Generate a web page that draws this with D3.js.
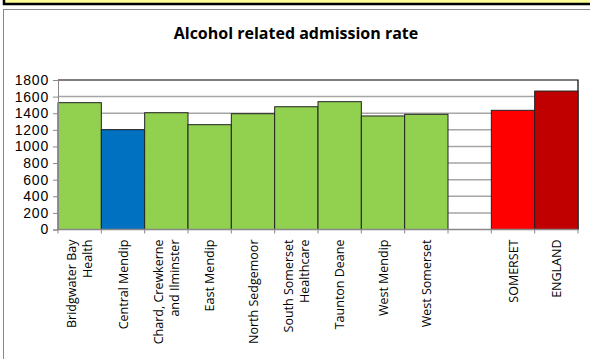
<!DOCTYPE html>
<html><head><meta charset="utf-8">
<script src="https://cdn.jsdelivr.net/npm/d3@7"></script>
<style>body{margin:0;background:#fff;overflow:hidden}svg{display:block}</style>
</head><body>
<svg id="c" width="590" height="359"></svg>
<script>
const categories = ["Bridgwater Bay\nHealth","Central Mendip","Chard, Crewkerne\nand Ilminster","East Mendip","North Sedgemoor","South Somerset\nHealthcare","Taunton Deane","West Mendip","West Somerset","","SOMERSET","ENGLAND"];
const values = [1527,1202,1406,1262,1394,1478,1539,1367,1387,null,1435,1667];
const barColors = ["#92D050","#0070C0","#92D050","#92D050","#92D050","#92D050","#92D050","#92D050","#92D050","#92D050","#FF0000","#C00000"];
const yTicks = [0,200,400,600,800,1000,1200,1400,1600,1800];
const title = "Alcohol related admission rate";

const svg = d3.select("#c");
// top yellow banner
svg.append("rect").attr("x",4).attr("y",-20).attr("width",600).attr("height",24)
  .attr("fill","#FFFF99").attr("stroke","#000").attr("stroke-width",2.5);
// chart frame
svg.append("rect").attr("x",3.5).attr("y",9.5).attr("width",600).attr("height",400)
  .attr("fill","#fff").attr("stroke","#888").attr("stroke-width",1);

svg.append("text").attr("x",296).attr("y",39).attr("text-anchor","middle")
  .attr("font-family","Open Sans").attr("font-weight","bold").attr("font-size",16)
  .text(title);

const L=58, R=578, T=80, B=229.5;
const x = d3.scaleBand().domain(categories.map((d,i)=>i)).range([L,R]).padding(0);
const y = d3.scaleLinear().domain([0,1800]).range([B,T]);

// gridlines
svg.append("g").selectAll("line").data(yTicks.filter(d=>d>0&&d<1800)).join("line")
  .attr("x1",L).attr("x2",R).attr("y1",d=>y(d)).attr("y2",d=>y(d))
  .attr("stroke","#a6a6a6").attr("stroke-width",1.5);

// plot border top/right
svg.append("path").attr("d",`M${L},${y(1800)}H${R}V${B}`).attr("fill","none").attr("stroke","#000").attr("stroke-width",1.2);

// bars
svg.append("g").selectAll("rect").data(values.map((v,i)=>({v,i})).filter(d=>d.v!=null)).join("rect")
  .attr("x",d=>x(d.i)).attr("width",x.bandwidth())
  .attr("y",d=>y(d.v)).attr("height",d=>B-y(d.v))
  .attr("fill",d=>barColors[d.i]).attr("stroke","#222").attr("stroke-width",1);

// y axis
const ya = svg.append("g").attr("transform",`translate(${L},0)`)
  .call(d3.axisLeft(y).tickValues(yTicks).tickSize(5).tickPadding(4).tickFormat(d3.format("d")));
ya.select(".domain").attr("stroke","#888");
ya.selectAll(".tick line").attr("stroke","#888");
ya.selectAll("text").attr("font-family","Liberation Sans").attr("font-size",14)
  .attr("letter-spacing",0.8).attr("fill","#000");

// x axis
const xa = svg.append("g").attr("transform",`translate(0,${B})`);
xa.append("line").attr("x1",L).attr("x2",R).attr("stroke","#888").attr("stroke-width",1.5);
xa.selectAll("line.t").data(d3.range(categories.length+1)).join("line").attr("class","t")
  .attr("x1",i=>L+i*x.step()).attr("x2",i=>L+i*x.step()).attr("y1",0).attr("y2",4).attr("stroke","#888");

categories.forEach((c,i)=>{
  const lines = c.split("\n");
  const cx = x(i)+x.bandwidth()/2;
  const lh = 15.5;
  lines.forEach((ln,j)=>{
    const off = (j-(lines.length-1)/2)*lh;
    svg.append("text").attr("transform",`translate(${cx+off+4.5},${B+10}) rotate(-90)`)
      .attr("text-anchor","end").attr("font-family","Open Sans").attr("font-size",12.5)
      .text(ln);
  });
});
</script>
</body></html>
